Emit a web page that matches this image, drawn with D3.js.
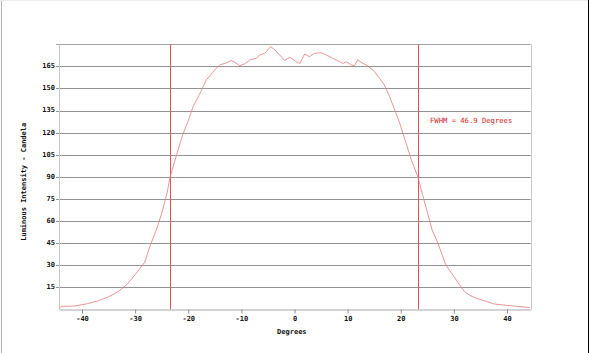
<!DOCTYPE html>
<html>
<head>
<meta charset="utf-8">
<script src="https://cdn.jsdelivr.net/npm/d3@7"></script>
<style>
  body { margin: 0; background: #fff; }
  text { font-family: "DejaVu Sans Mono", monospace; }
</style>
</head>
<body>
<div id="chart"></div>
<script>
// angle (degrees) and intensity (candela)
const angles = [-44.3, -43.9, -41.4, -39, -36.9, -35, -33.2, -31.5, -30, -28.2, -27.1, -26, -25, -24, -23.4,
    -22.2, -21, -20, -19.1, -17.8, -16.6, -15, -14.1, -13.1, -11.9, -11.25, -10.3, -9.4, -8.4, -7.2, -6.5,
    -5.6, -4.5, -3.7, -3.1, -2.2, -1.85, -0.9, 0.35, 1, 1.9, 2.8, 3.8, 5, 6, 7.2, 8.5, 9.1, 9.7, 10.7, 11.3,
    11.9, 12.9, 13.5, 14.75, 16, 16.9, 17.9, 19.1, 19.8, 21, 22, 23.2, 24.1, 25, 25.9, 27, 28.5, 29.8, 31,
    32, 33, 34.2, 36, 37.6, 40.4, 42, 44.3];
const intensity = [0.5, 2, 2.2, 3.8, 5.8, 8.5, 12, 17, 23.5, 32, 44, 54, 65, 79, 90,
    105, 119, 128, 137.6, 146.7, 155.8, 162.6, 166, 167, 169, 167.8, 165.5, 166.7, 169.4, 170.5, 172.8,
    173.9, 178.4, 176.2, 173.9, 170.5, 169, 171.2, 168.2, 167, 173.4, 171.6, 173.9, 174.3, 172.8, 170.5, 168.2, 167, 168.2, 166, 165.5,
    169.4, 167, 166, 162.6, 157, 152.4, 144.5, 133.2, 126.4, 112.8, 101.4, 90.1, 78, 66, 54, 44.8, 30, 23.3, 17,
    12, 9.5, 7.5, 5.5, 3.6, 2.5, 2, 1.2];
const yTicks = [15, 30, 45, 60, 75, 90, 105, 120, 135, 150, 165];
const xTicks = [-40, -30, -20, -10, 0, 10, 20, 30, 40];
const fwhm = [-23.4, 23.3];
const fwhmLabel = "FWHM = 46.9 Degrees";

const data = angles.map((a, i) => ({ a: a, v: intensity[i] }));

const width = 590,
      height = 353,
      margin = ({ top: 44.3, right: 59.3, bottom: 43.7, left: 59 });

let svg = d3.select("#chart")
    .append("svg")
    .attr("width", width)
    .attr("height", height);

// outer frame
svg.append("line").attr("x1", 1.5).attr("x2", 1.5).attr("y1", 0).attr("y2", height)
    .attr("stroke", "#b0b0b0");
svg.append("line").attr("x1", 0).attr("x2", 588).attr("y1", 0.5).attr("y2", 0.5)
    .attr("stroke", "#ececec");
svg.append("line").attr("x1", 588.5).attr("x2", 588.5).attr("y1", 0).attr("y2", height)
    .attr("stroke", "#000");

let x = d3.scaleLinear()
    .domain([-44.33, 44.46])
    .range([margin.left, width - margin.right]);

let y = d3.scaleLinear()
    .domain([0, 180])
    .range([height - margin.bottom, margin.top]);

// horizontal grid lines
svg.append("g")
    .selectAll("line")
    .data(yTicks.concat([180]))
    .join("line")
    .attr("x1", margin.left - 3)
    .attr("x2", width - margin.right)
    .attr("y1", d => Math.round(y(d)) + 0.5)
    .attr("y2", d => Math.round(y(d)) + 0.5)
    .attr("stroke", d => d === 180 ? "#a4a4a4" : "#939393");

// left / right plot borders
svg.append("g")
    .selectAll("line")
    .data(x.domain())
    .join("line")
    .attr("x1", d => Math.round(x(d)) + 0.5)
    .attr("x2", d => Math.round(x(d)) + 0.5)
    .attr("y1", y(180))
    .attr("y2", y(0))
    .attr("stroke", "#c8c8c8");

// x axis
let xAxis = svg.append("g")
    .attr("transform", `translate(0,${Math.round(y(0)) + 0.5})`)
    .call(d3.axisBottom(x).tickValues(xTicks).tickSize(4).tickSizeOuter(0).tickFormat(d3.format("d")));
xAxis.select(".domain").attr("stroke", "#a8a8a8");
xAxis.selectAll(".tick line").attr("stroke", "#8c8c8c");
xAxis.selectAll(".tick text")
    .attr("y", 7)
    .attr("fill", "#111")
    .style("font-size", "7px")
    .style("font-weight", "bold")
    .text(d => d < 0 ? "-" + Math.abs(d) : d);

// y axis labels
svg.append("g")
    .selectAll("text")
    .data(yTicks)
    .join("text")
    .attr("x", margin.left - 4)
    .attr("y", d => y(d))
    .attr("text-anchor", "end")
    .attr("dominant-baseline", "middle")
    .attr("fill", "#111")
    .style("font-size", "7px")
    .style("font-weight", "bold")
    .text(d => d);

// FWHM markers
svg.append("g")
    .selectAll("line")
    .data(fwhm)
    .join("line")
    .attr("x1", d => Math.round(x(d)) + 0.5)
    .attr("x2", d => Math.round(x(d)) + 0.5)
    .attr("y1", y(180))
    .attr("y2", y(0))
    .attr("stroke", "#e45656");

// intensity curve
let line = d3.line()
    .x(d => x(d.a))
    .y(d => y(d.v));

svg.append("path")
    .datum(data)
    .attr("fill", "none")
    .attr("stroke", "#e67a7a")
    .attr("stroke-width", 0.8)
    .attr("d", line);

svg.append("text")
    .attr("x", 430)
    .attr("y", y(128))
    .attr("dominant-baseline", "middle")
    .attr("fill", "#d42020")
    .style("font-size", "7.2px")
    .text(fwhmLabel);

// axis titles
svg.append("text")
    .attr("x", (margin.left + width - margin.right) / 2 - 3)
    .attr("y", 332)
    .attr("text-anchor", "middle")
    .attr("dominant-baseline", "middle")
    .attr("fill", "#111")
    .style("font-size", "7px")
    .style("font-weight", "bold")
    .text("Degrees");

svg.append("text")
    .attr("transform", `translate(24,${(y(0) + y(180)) / 2 + 5}) rotate(-90)`)
    .attr("text-anchor", "middle")
    .attr("dominant-baseline", "middle")
    .attr("fill", "#111")
    .style("font-size", "7px")
    .style("font-weight", "bold")
    .text("Luminous Intensity - Candela");
</script>
</body>
</html>
